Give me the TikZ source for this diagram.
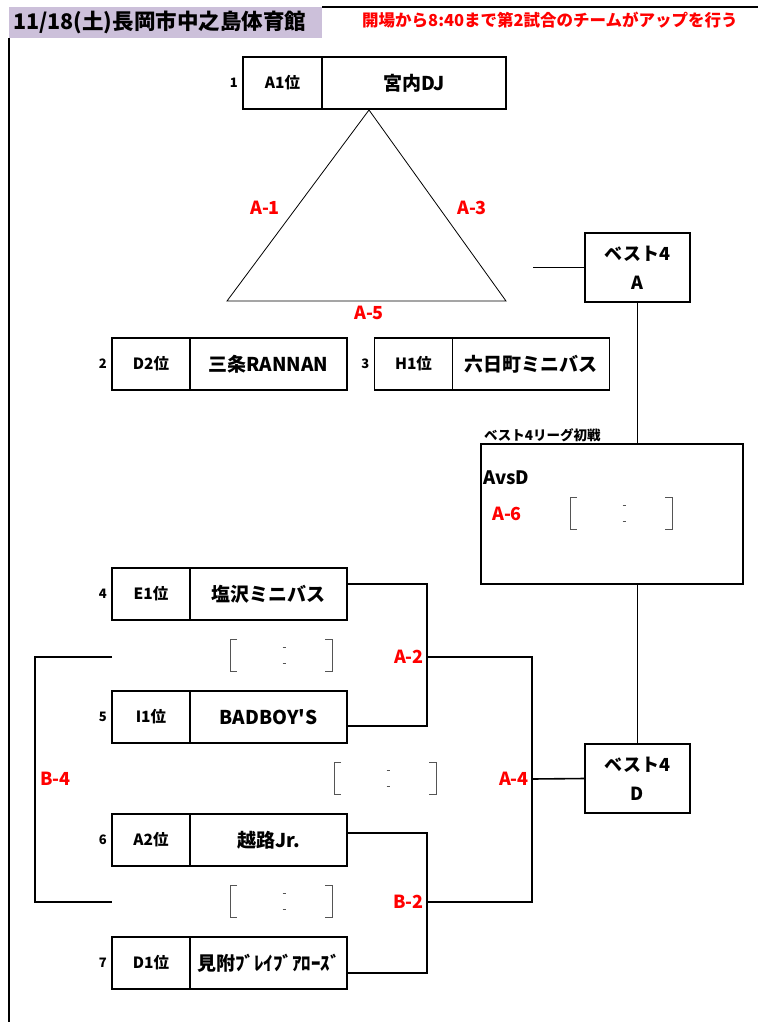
\documentclass[tikz,border=0pt]{standalone}
\usepackage{fontspec}
\setmainfont{Noto Sans CJK JP}[Ligatures=TeXOff]
\usepackage{xcolor}
\usepackage{tikz}
\usetikzlibrary{positioning, calc}
\definecolor{lilac}{HTML}{CCC0DA}
\definecolor{scoregray}{HTML}{555555}

\begin{document}
\begin{tikzpicture}[x=1pt, y=-1pt, font=\bfseries]
\tikzstyle{rankcell} = [rectangle, draw, line width=1.6pt, outer sep=0pt, inner sep=0pt, minimum width=78pt, minimum height=52pt, font=\fontsize{15.5}{15.5}\selectfont\bfseries]
\tikzstyle{namecell} = [rankcell, minimum width=157pt, font=\fontsize{19}{19}\selectfont\bfseries]
\tikzstyle{seed} = [inner sep=0pt, font=\fontsize{13}{13}\selectfont\bfseries]
\tikzstyle{match} = [text=red, inner sep=0pt, font=\fontsize{18}{18}\selectfont\bfseries]
\tikzstyle{best} = [rectangle, draw, line width=1.6pt, outer sep=0pt, minimum width=105pt, minimum height=69pt, align=center, font=\fontsize{18}{29}\selectfont\bfseries]
\tikzstyle{link} = [line width=1.6pt]
\tikzstyle{scoreline} = [draw=scoregray, line width=1pt]
\tikzset{score/.pic={
  \draw[scoreline] (-47,-16) -- (-54,-16) -- (-54,16) -- (-47,16);
  \draw[scoreline] (41,-16) -- (48,-16) -- (48,16) -- (41,16);
  \draw[scoreline] (-1.5,-8) -- (1.5,-8) (-1.5,8) -- (1.5,8);
}}

\useasboundingbox (0,0) rectangle (758,1022);

\node (title) [fill=lilac, anchor=north west, minimum height=26pt, text width=305pt, inner sep=4pt, font=\fontsize{21.5}{21.5}\selectfont\bfseries] at (9,7) {11/18(土)長岡市中之島体育館};
\node (notice) [anchor=west, text=red, inner sep=0pt, font=\fontsize{16.5}{16.5}\selectfont\bfseries] at (362,20) {開場から8:40まで第2試合のチームがアップを行う};
\draw[link] (title.north east) -- (758,7);
\draw[link] (title.south west) -- (9,1022);

\node (r1) [rankcell, minimum width=79pt] at (282.5,83) {A1位};
\node (n1) [namecell, minimum width=184pt, right=0pt of r1] {宮内DJ};
\node (s1) [seed, left=5pt of r1] {1};

\node (r2) [rankcell] at (151,364) {D2位};
\node (n2) [namecell, right=0pt of r2] {三条RANNAN};
\node (s2) [seed, left=5pt of r2] {2};

\node (r3) [rankcell] at (413.5,364) {H1位};
\node (n3) [namecell, right=0pt of r3] {六日町ミニバス};
\node (s3) [seed, left=5pt of r3] {3};

\node (r4) [rankcell] at (151,594) {E1位};
\node (n4) [namecell, right=0pt of r4] {塩沢ミニバス};
\node (s4) [seed, left=5pt of r4] {4};

\node (r5) [rankcell] at (151,717) {I1位};
\node (n5) [namecell, right=0pt of r5] {BADBOY'S};
\node (s5) [seed, left=5pt of r5] {5};

\node (r6) [rankcell] at (151,840) {A2位};
\node (n6) [namecell, right=0pt of r6] {越路Jr.};
\node (s6) [seed, left=5pt of r6] {6};

\node (r7) [rankcell] at (151,963) {D1位};
\node (n7) [namecell, right=0pt of r7] {見附ﾌﾞﾚｲﾌﾞｱﾛｰｽﾞ};
\node (s7) [seed, left=5pt of r7] {7};

\coordinate (apex) at (369,110);
\coordinate (baseL) at (227,301);
\coordinate (baseR) at (506,301);
\draw[line width=0.8pt] (apex) -- (baseL) -- (baseR) -- cycle;
\node (m1) [match] at (265,208) {A-1};
\node (m3) [match] at (472,208) {A-3};
\node (m5) [match] at (369,313) {A-5};

\node (bestA) [best] at (637.5,267.5) {ベスト4\\A};
\node (bestD) [best] at (637.5,778.5) {ベスト4\\D};
\node (league) [rectangle, draw, line width=1.6pt, outer sep=0pt, minimum width=262pt, minimum height=140pt] at (612,514) {};
\node (ltitle) [anchor=south west, inner sep=1pt, font=\fontsize{13.5}{13.5}\selectfont\bfseries] at ($(league.north west)+(2,-1)$) {ベスト4リーグ初戦};
\node (vs) [anchor=west, inner sep=0pt, font=\fontsize{18.5}{18.5}\selectfont\bfseries] at (483,478) {AvsD};
\node (m6) [match] at (507,514) {A-6};

\draw[link] (bestA.west) -- ++(-52,0);
\draw[link] (bestA.south) -- (bestA.south |- league.north);
\draw[link] (league.south -| bestD.north) -- (bestD.north);

\coordinate (a2) at (427,657);
\coordinate (b2) at (427,902);
\coordinate (a4) at (532,779);
\draw[link] ($(n4.north east)+(0,16)$) -| (a2) |- ($(n5.south east)+(0,-17)$);
\draw[link] ($(n6.north east)+(0,19)$) -| (b2) |- ($(n7.south east)+(0,-16)$);
\draw[link] (a2) -- (a2 -| a4) -- (b2 -| a4) -- (b2);
\draw[link] (a4) -- (bestD.west);
\draw[link] (r4.west |- a2) -- ++(-77,0) |- (r6.west |- b2);
\node (m2) [match, anchor=east] at (424,657) {A-2};
\node (m4) [match, anchor=east] at (529,779) {A-4};
\node (mb2) [match, anchor=east] at (424,902) {B-2};
\node (mb4) [match, anchor=west] at (40,779) {B-4};

\pic at (284,655) {score};
\pic at (388,778) {score};
\pic at (284,901) {score};
\pic at (624,513) {score};

\end{tikzpicture}
\end{document}
